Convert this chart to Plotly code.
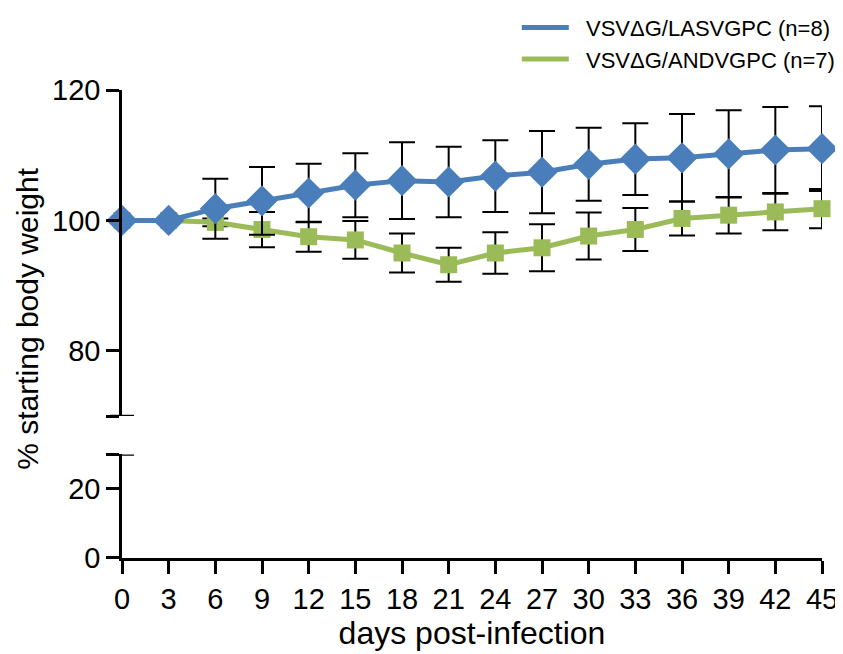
import plotly.graph_objects as go

days = [0, 3, 6, 9, 12, 15, 18, 21, 24, 27, 30, 33, 36, 39, 42, 45]
lasv_mean = [100, 100, 101.8, 103.0, 104.2, 105.4, 106.1, 105.9, 106.8, 107.4, 108.6, 109.4, 109.6, 110.2, 110.8, 111.0]
lasv_err = [0, 0, 4.6, 5.2, 4.5, 4.9, 5.9, 5.4, 5.5, 6.3, 5.6, 5.5, 6.7, 6.7, 6.6, 6.5]
andv_mean = [100, 100, 99.7, 98.6, 97.5, 97.0, 95.0, 93.2, 95.0, 95.8, 97.6, 98.6, 100.3, 100.8, 101.3, 101.8]
andv_err = [0, 0, 0.6, 2.7, 2.3, 2.9, 3.0, 2.6, 3.2, 3.6, 3.6, 3.3, 2.6, 2.8, 2.8, 3.0]
lasv_name = "VSVΔG/LASVGPC (n=8)"
andv_name = "VSVΔG/ANDVGPC (n=7)"
x_ticks = days
upper_ticks = [70, 80, 100, 120]
upper_text = ["", "80", "100", "120"]
lower_ticks = [0, 20, 30]
lower_text = ["0", "20", ""]

BLUE = "#4A7EBB"
GREEN = "#9BBB59"
FONT = "Arial, Liberation Sans, sans-serif"
PAD = "\u00a0\u00a0"

fig = go.Figure()
fig.add_trace(go.Scatter(
    x=days, y=andv_mean, mode="lines+markers", showlegend=False,
    line=dict(color=GREEN, width=5),
    marker=dict(symbol="square", size=17, color=GREEN),
    error_y=dict(type="data", array=andv_err, color="black", thickness=2, width=13),
    cliponaxis=False, xaxis="x", yaxis="y"))
fig.add_trace(go.Scatter(
    x=days, y=lasv_mean, mode="lines+markers", showlegend=False,
    line=dict(color=BLUE, width=5),
    marker=dict(symbol="diamond", size=24, color=BLUE),
    error_y=dict(type="data", array=lasv_err, color="black", thickness=2, width=13),
    cliponaxis=False, xaxis="x", yaxis="y"))
# legend entries (line only)
fig.add_trace(go.Scatter(x=[None], y=[None], mode="lines", name=PAD + lasv_name,
                         line=dict(color=BLUE, width=5), legendgroup="a"))
fig.add_trace(go.Scatter(x=[None], y=[None], mode="lines", name=PAD + andv_name,
                         line=dict(color=GREEN, width=5), legendgroup="b"))
# dummy trace for lower axis
fig.add_trace(go.Scatter(x=[None], y=[None], xaxis="x", yaxis="y2", showlegend=False))

axis_common = dict(showgrid=False, zeroline=False, showline=True, linecolor="black",
                   linewidth=2.5, ticks="outside", ticklen=13, tickwidth=2.5,
                   tickcolor="black", tickfont=dict(family=FONT, size=29, color="black"))

fig.update_layout(
    width=835, height=646,
    margin=dict(l=114, r=21, t=82, b=96, autoexpand=False),
    plot_bgcolor="white", paper_bgcolor="white",
    font=dict(family=FONT, color="black"),
    xaxis=dict(range=[0, 45], tickvals=x_ticks, anchor="y2", automargin=False, **axis_common,
               title=dict(text="days post-infection", font=dict(family=FONT, size=32), standoff=4)),
    yaxis=dict(range=[70, 120], domain=[0.3034, 1.0], anchor="x", automargin=False,
               tickvals=upper_ticks, ticktext=upper_text, **axis_common),
    yaxis2=dict(range=[0, 30], domain=[0.0, 0.2212], anchor="x", automargin=False,
                tickvals=lower_ticks, ticktext=lower_text, **axis_common),
    legend=dict(x=0.564, y=1.178, xanchor="left", yanchor="top", itemwidth=47,
                font=dict(family=FONT, size=22), tracegroupgap=0,
                bgcolor="rgba(0,0,0,0)"),
    annotations=[dict(text="% starting body weight", textangle=-90, xref="paper", yref="paper",
                      x=-0.135, y=0.51, xanchor="center", yanchor="middle", showarrow=False,
                      font=dict(family=FONT, size=30))],
    shapes=[
        dict(type="line", xref="paper", yref="y", x0=-0.0171, x1=0.0171, y0=70, y1=70,
             line=dict(color="black", width=2.5)),
        dict(type="line", xref="paper", yref="y2", x0=-0.0171, x1=0.0171, y0=30, y1=30,
             line=dict(color="black", width=2.5)),
    ],
)
fig.write_html("out.html")
